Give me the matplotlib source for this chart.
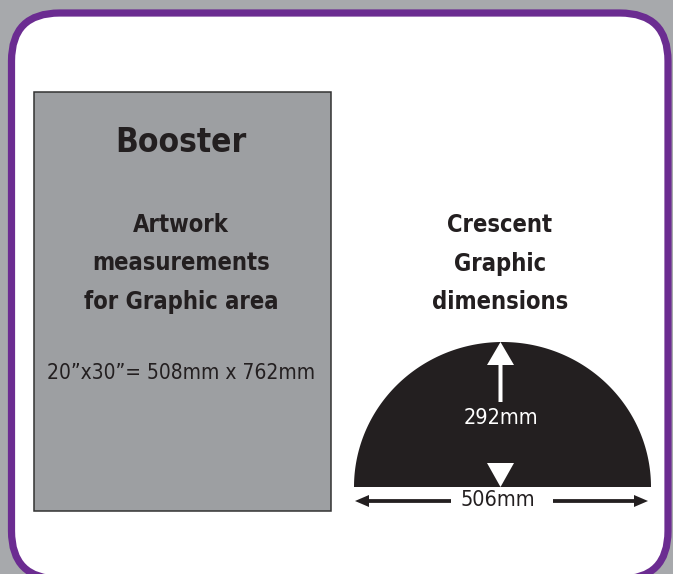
import matplotlib.pyplot as plt
import matplotlib.patches as patches
import numpy as np

# texts and dimension values
panel_title = "Booster"
panel_lines = ["Artwork", "measurements", "for Graphic area"]
panel_size = "20\u201dx30\u201d= 508mm x 762mm"
crescent_lines = ["Crescent", "Graphic", "dimensions"]
crescent_height = "292mm"
crescent_width = "506mm"

ink = "#231f20"
purple = "#6b2c91"
bg = "#a7a9ac"
box_grey = "#9d9fa2"

W, H = 673, 574
fig = plt.figure(figsize=(W / 100, H / 100), dpi=100, facecolor=bg)
ax = fig.add_axes([0, 0, 1, 1])
ax.set_xlim(0, W)
ax.set_ylim(H, 0)
ax.axis("off")

# white card with purple rounded border (bottom edge runs just off the image)
card = patches.FancyBboxPatch((11.5, 13), 656.5, 566, boxstyle="round,pad=0,rounding_size=48",
                              facecolor="white", edgecolor=purple, linewidth=5.2)
ax.add_patch(card)

# grey booster panel
ax.add_patch(patches.Rectangle((34, 92), 297, 419, facecolor=box_grey, edgecolor="#333333", linewidth=1.1))

fs_head = dict(fontfamily="DejaVu Sans", fontstretch="condensed", fontweight="bold", color=ink,
               ha="center", va="center")
ax.text(181, 142, panel_title, fontsize=24, **fs_head)
for i, line in enumerate(panel_lines):
    ax.text(181, 225 + i * 38.5, line, fontsize=17, **fs_head)
ax.text(181, 373, panel_size, fontsize=15, fontfamily="DejaVu Sans", fontstretch="condensed",
        color=ink, ha="center", va="center")

for i, line in enumerate(crescent_lines):
    ax.text(500, 225 + i * 38.5, line, fontsize=17, **fs_head)

# crescent (half ellipse)
cx, cy, rx, ry = 502.5, 487, 148.5, 145
t = np.linspace(np.pi, 2 * np.pi, 200)
pts = np.column_stack([cx + rx * np.cos(t), cy + ry * np.sin(t)])
ax.add_patch(patches.Polygon(pts, closed=True, facecolor=ink, edgecolor="none"))

# height arrow
ax.add_patch(patches.FancyArrow(500.5, 402, 0, -60, width=4, head_width=27, head_length=23,
                                length_includes_head=True, facecolor="white", edgecolor="none"))
ax.add_patch(patches.Polygon([(487, 463), (514, 463), (500.5, 487)], closed=True,
                             facecolor="white", edgecolor="none"))
ax.text(501, 418, crescent_height, fontsize=15.5, fontfamily="DejaVu Sans", fontstretch="condensed",
        color="white", ha="center", va="center")

# width arrows
for x0, x1 in [(451, 355), (553, 648)]:
    ax.add_patch(patches.FancyArrow(x0, 501, x1 - x0, 0, width=3.8, head_width=12, head_length=14,
                                    length_includes_head=True, facecolor=ink, edgecolor="none"))
ax.text(498, 500, crescent_width, fontsize=15.5, fontfamily="DejaVu Sans", fontstretch="condensed",
        color=ink, ha="center", va="center")

fig.savefig("out.png", dpi=100, facecolor=bg)
